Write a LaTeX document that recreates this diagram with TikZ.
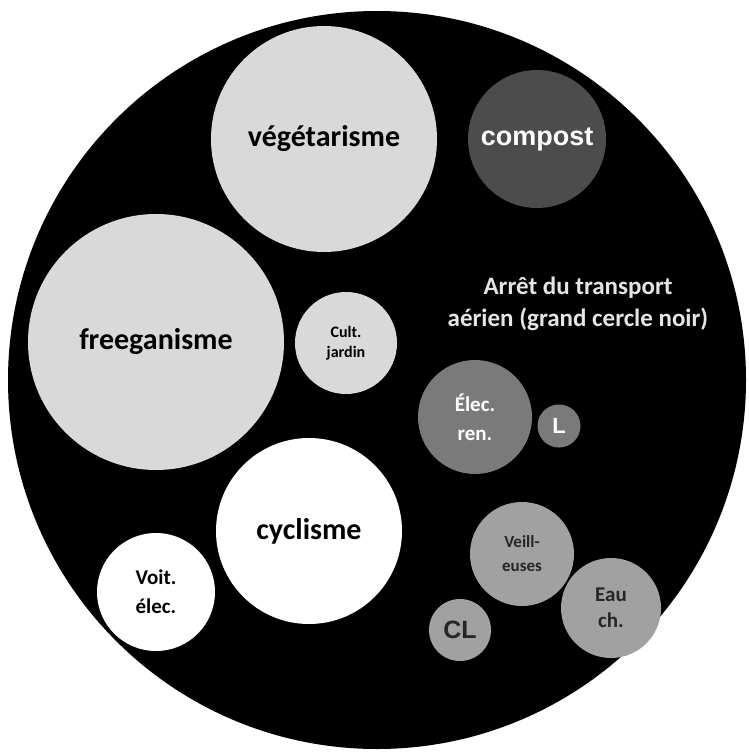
\documentclass[tikz,border=0pt]{standalone}
\usepackage{fontspec}
\setmainfont{Carlito}
\newfontfamily\arial{Liberation Sans}
\usepackage{tikz}
\usepackage{xcolor}
\usetikzlibrary{shapes}

\begin{document}
\begin{tikzpicture}[x=1pt,y=-1pt]
	\tikzstyle{bulle}=[circle,inner sep=0pt,align=center,font=\bfseries]
	\tikzstyle{clair}=[bulle,fill=black!15,text=black]
	\tikzstyle{blanc}=[bulle,fill=white,text=black]
	\tikzstyle{moyen}=[bulle,fill=black!52,text=white]
	\tikzstyle{gris}=[bulle,fill=black!37,text=black!85]
	\tikzstyle{fonce}=[bulle,fill=black!70,text=white]

	\useasboundingbox (0,0) rectangle (748,752);

	% grand cercle noir
	\node [bulle,fill=black,minimum size=738pt] (avion) at (377,380) {};
	\node [text=black!10,align=center,font=\bfseries\fontsize{25}{32}\selectfont] (legende) at (578,304) {Arrêt du transport\\aérien (grand cercle noir)};

	\node [clair,minimum size=226pt,font=\bfseries\fontsize{30}{32}\selectfont] (vege) at (324,139) {végétarisme};
	\node [fonce,minimum size=138pt,font=\arial\bfseries\fontsize{27}{30}\selectfont] (compost) at (537,139) {compost};
	\node [clair,minimum size=256pt,font=\bfseries\fontsize{30}{32}\selectfont] (free) at (156,342) {freeganisme};
	\node [clair,minimum size=102pt,font=\bfseries\fontsize{16}{20}\selectfont] (jardin) at (346,343) {Cult.\\jardin};
	\node [moyen,minimum size=114pt,font=\bfseries\fontsize{21}{29}\selectfont] (elec) at (475,417) {Élec.\\ren.};
	\node [moyen,minimum size=43pt,font=\arial\bfseries\fontsize{22}{24}\selectfont] (lampe) at (559,426) {L};
	\node [blanc,minimum size=186pt,font=\bfseries\fontsize{30}{32}\selectfont] (velo) at (309,531) {cyclisme};
	\node [blanc,minimum size=118pt,font=\bfseries\fontsize{21}{29}\selectfont] (voiture) at (156,592) {Voit.\\élec.};
	\node [gris,minimum size=104pt,font=\bfseries\fontsize{17}{24}\selectfont] (veille) at (522,554) {Veill-\\euses};
	\node [gris,minimum size=100pt,font=\bfseries\fontsize{21}{26}\selectfont] (eau) at (611,608) {Eau\\ch.};
	\node [gris,minimum size=62pt,font=\arial\bfseries\fontsize{25}{28}\selectfont] (cl) at (460,630) {CL};

\end{tikzpicture}
\end{document}
